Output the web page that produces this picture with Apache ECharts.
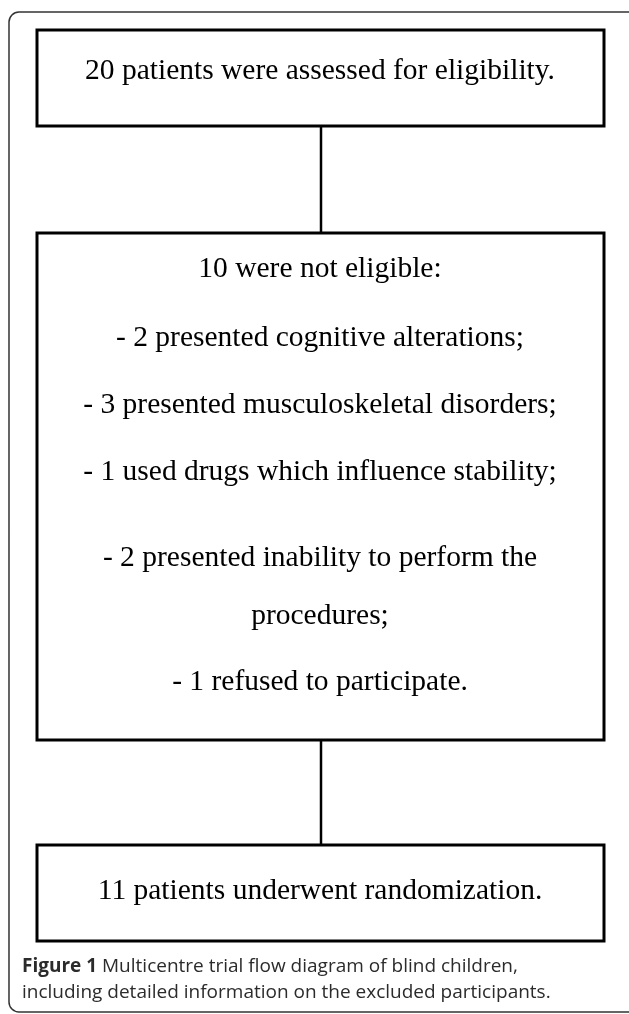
<!DOCTYPE html>
<html lang="en">
<head>
    <meta charset="UTF-8">
    <title>Flow diagram</title>
    <script src="https://cdn.jsdelivr.net/npm/echarts@6/dist/echarts.min.js"></script>
</head>
<body style="margin:0;background:#fff;">
    <div id="main" style="width:629px;height:1014px;"></div>
</body>
<script type="text/javascript">
    // texts of the diagram
    var boxTitles = [
        '20 patients were assessed for eligibility.',
        '10 were not eligible:',
        '11 patients underwent randomization.'
    ];
    var excludedReasons = [
        '- 2 presented cognitive alterations;',
        '- 3 presented musculoskeletal disorders;',
        '- 1 used drugs which influence stability;',
        '- 2 presented inability to perform the\nprocedures;',
        '- 1 refused to participate.'
    ];
    var captionBold = 'Figure 1';
    var captionText = ' Multicentre trial flow diagram of blind children,\nincluding detailed information on the excluded participants.';

    // layout (diagram units = px on a hidden axis)
    var boxTop = [30, 233, 845];
    var boxBottom = [126, 740, 941];
    var titleY = [71, 269, 891];
    var reasonY = [338, 405, 472, 587, 682];

    var myChart = echarts.init(document.getElementById('main'));

    var serif = '"Liberation Serif", "Times New Roman", serif';
    var boxFont = '29.5px ' + serif;

    function renderBox(params, api) {
        var i = params.dataIndex;
        var p0 = api.coord([37, boxTop[i]]);
        var p1 = api.coord([604, boxBottom[i]]);
        var cx = api.coord([320, 0])[0];
        var children = [{
            type: 'rect',
            shape: { x: p0[0], y: p0[1], width: p1[0] - p0[0], height: p1[1] - p0[1] },
            style: { fill: '#fff', stroke: '#000', lineWidth: 3 }
        }, {
            type: 'text',
            style: {
                text: boxTitles[i], x: cx, y: api.coord([0, titleY[i]])[1],
                align: 'center', verticalAlign: 'middle',
                font: boxFont, fill: '#000'
            }
        }];
        if (i === 1) {
            excludedReasons.forEach(function (r, k) {
                children.push({
                    type: 'text',
                    style: {
                        text: r, x: cx, y: api.coord([0, reasonY[k]])[1],
                        align: 'center', verticalAlign: 'middle',
                        font: boxFont, lineHeight: 58, fill: '#000'
                    }
                });
            });
        }
        return { type: 'group', children: children };
    }

    function renderLink(params, api) {
        var i = params.dataIndex;
        var a = api.coord([321, boxBottom[i]]);
        var b = api.coord([321, boxTop[i + 1]]);
        return {
            type: 'line',
            shape: { x1: a[0], y1: a[1], x2: b[0], y2: b[1] },
            style: { stroke: '#000', lineWidth: 2.5 }
        };
    }

    var option = {
        animation: false,
        grid: { left: 0, right: 0, top: 0, bottom: 0 },
        xAxis: { type: 'value', min: 0, max: 629, show: false },
        yAxis: { type: 'value', min: 0, max: 1014, inverse: true, show: false },
        graphic: [{
            type: 'rect',
            shape: { x: 9, y: 12, width: 630, height: 1000, r: 10 },
            style: { fill: 'none', stroke: '#333', lineWidth: 1.5 }
        }, {
            type: 'text',
            left: 22,
            top: 954,
            style: {
                text: '{b|' + captionBold + '}' + captionText,
                font: '19px "Open Sans", sans-serif',
                lineHeight: 26,
                fill: '#2b2b2b',
                rich: {
                    b: { font: 'bold 19px "Open Sans", sans-serif', fill: '#2b2b2b', lineHeight: 26 }
                }
            }
        }],
        series: [{
            type: 'custom',
            renderItem: renderLink,
            data: [0, 1],
            z: 1
        }, {
            type: 'custom',
            renderItem: renderBox,
            data: [0, 1, 2],
            z: 2
        }]
    };

    myChart.setOption(option);
</script>
</html>
